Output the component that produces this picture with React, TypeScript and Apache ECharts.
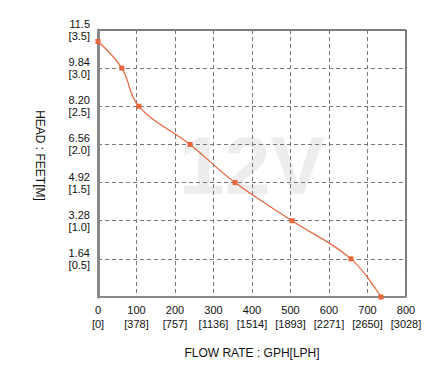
import React, { useEffect, useRef } from "react";
import * as echarts from "echarts";

const flowGph = [0, 62, 106, 239, 356, 504, 657, 735];
const headM = [3.35, 3.0, 2.5, 2.0, 1.5, 1.0, 0.5, 0];
const yFeetLabels: Record<string, string> = {
  "0.5": "1.64",
  "1": "3.28",
  "1.5": "4.92",
  "2": "6.56",
  "2.5": "8.20",
  "3": "9.84",
  "3.5": "11.5",
};
const xLphLabels: Record<string, string> = {
  "0": "0",
  "100": "378",
  "200": "757",
  "300": "1136",
  "400": "1514",
  "500": "1893",
  "600": "2271",
  "700": "2650",
  "800": "3028",
};

const FONT = "Liberation Sans";

export default function App() {
  const ref = useRef<HTMLDivElement>(null);
  useEffect(() => {
    if (!ref.current) return;
    const chart = echarts.init(ref.current, undefined, { renderer: "svg" });
    chart.setOption({
      animation: false,
      backgroundColor: "#fff",
      title: {
        text: "12V",
        left: 252,
        top: 124,
        textAlign: "center",
        z: -1,
        padding: 0,
        textStyle: {
          fontFamily: FONT,
          fontSize: 82,
          fontWeight: "bold",
          color: "#ededed",
        },
      },
      grid: {
        left: 98,
        right: 30,
        top: 30,
        bottom: 71,
        show: true,
        borderColor: "#000",
        borderWidth: 1,
      },
      xAxis: {
        type: "value",
        min: 0,
        max: 800,
        interval: 100,
        name: "FLOW RATE : GPH[LPH]",
        nameLocation: "middle",
        nameGap: 50,
        nameTextStyle: { fontFamily: FONT, fontSize: 12, color: "#111" },
        axisLine: { show: true, lineStyle: { color: "#888", width: 2 } },
        axisTick: { show: false },
        axisLabel: {
          fontFamily: FONT,
          fontSize: 11,
          color: "#111",
          margin: 6,
          lineHeight: 14,
          formatter: (v: number) => `${v}\n[${xLphLabels[String(v)]}]`,
        },
        splitLine: {
          show: true,
          lineStyle: { color: "#777", type: [4, 3], width: 1 },
        },
      },
      yAxis: {
        type: "value",
        min: 0,
        max: 3.5,
        interval: 0.5,
        name: "HEAD : FEET[M]",
        nameLocation: "middle",
        nameRotate: -90,
        nameGap: 52,
        nameTextStyle: {
          fontFamily: FONT,
          fontSize: 12,
          color: "#111",
          padding: [0, 16, 0, 0],
        },
        axisLine: { show: true, lineStyle: { color: "#888", width: 3 } },
        axisTick: { show: false },
        axisLabel: {
          fontFamily: FONT,
          fontSize: 11,
          color: "#111",
          margin: 8,
          lineHeight: 12,
          padding: [7, 0, 0, 0],
          formatter: (v: number) =>
            v === 0 ? "" : `${yFeetLabels[String(v)]}\n[${v.toFixed(1)}]`,
        },
        splitLine: {
          show: true,
          lineStyle: { color: "#777", type: [4, 3], width: 1 },
        },
      },
      series: [
        {
          type: "line",
          data: flowGph.map((x, i) => [x, headM[i]]),
          smooth: 0.4,
          symbol: "rect",
          symbolSize: 5,
          lineStyle: { color: "#e8643a", width: 1.2 },
          itemStyle: { color: "#e8643a" },
          z: 5,
        },
      ],
    });
    return () => chart.dispose();
  }, []);
  return (
    <div
      ref={ref}
      style={{ position: "absolute", left: 0, top: 0, width: 436, height: 368 }}
    />
  );
}
